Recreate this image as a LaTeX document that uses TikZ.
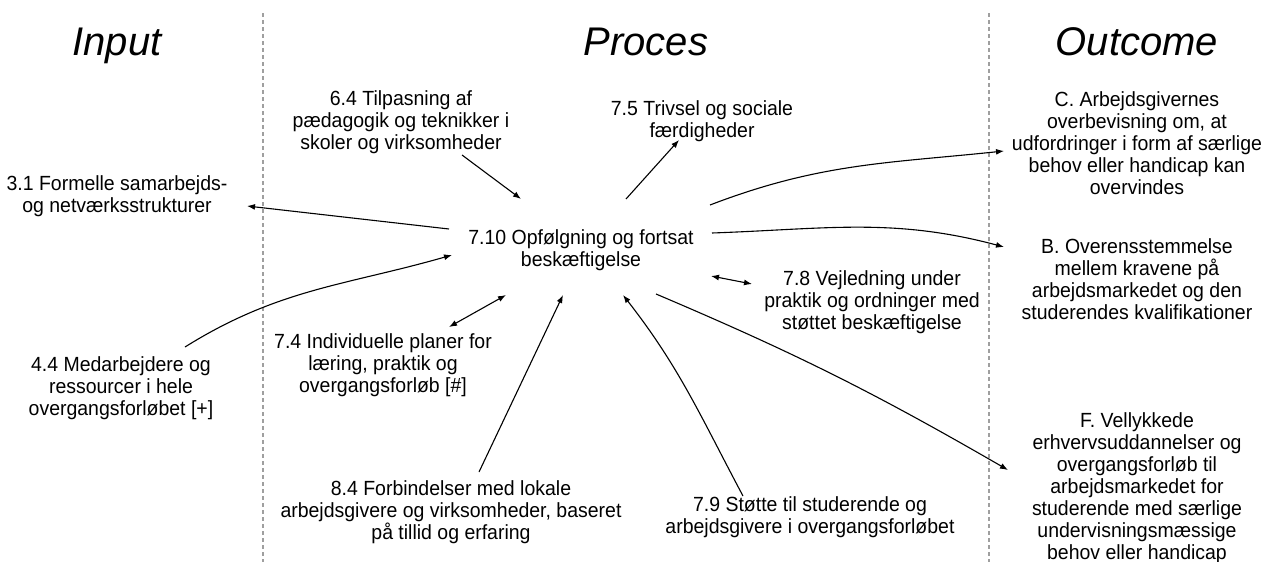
\documentclass[tikz,border=0pt]{standalone}
\usepackage{fontspec}
\setmainfont{Liberation Sans}
\newfontfamily\lblfont[FakeStretch=0.95]{Liberation Sans}
\usetikzlibrary{arrows.meta}

\begin{document}
\begin{tikzpicture}[x=1pt,y=1pt,
  % multi-line labels are placed by the baseline of their last line
  lbl/.style={align=center, font=\lblfont\fontsize{20.5}{22}\selectfont, inner sep=0pt, anchor=base},
  head/.style={font=\fontsize{40}{48}\selectfont\itshape, inner sep=0pt, anchor=base},
  sep/.style={draw=gray!75, line width=1.2pt, dash pattern=on 4pt off 3pt},
  link/.style={line width=1.1pt, -{Latex[length=8pt,width=6pt]}},
  both/.style={line width=1.1pt, {Latex[length=8pt,width=6pt]}-{Latex[length=8pt,width=6pt]}}]
\useasboundingbox (0,0) rectangle (1270,-562);

% column separators
\draw[sep] (263,-13) -- (263,-562);
\draw[sep] (989,-13) -- (989,-562);

% column headings
\node[head] (hin)  at (117,-55) {Input};
\node[head] (hpro) at (646,-55) {Proces};
\node[head] (hout) at (1137,-55) {Outcome};

% labels
\node[lbl] (n64)  at (401,-149) {6.4 Tilpasning af\\pædagogik og teknikker i\\skoler og virksomheder};
\node[lbl] (n75)  at (702,-137) {7.5 Trivsel og sociale\\færdigheder};
\node[lbl] (n31)  at (117,-212) {3.1 Formelle samarbejds-\\og netværksstrukturer};
\node[lbl] (n710) at (581,-266) {7.10 Opfølgning og fortsat\\beskæftigelse};
\node[lbl] (nC)   at (1137,-194) {C. Arbejdsgivernes\\overbevisning om, at\\udfordringer i form af særlige\\behov eller handicap kan\\overvindes};
\node[lbl] (nB)   at (1137,-319) {B. Overensstemmelse\\mellem kravene på\\arbejdsmarkedet og den\\studerendes kvalifikationer};
\node[lbl] (n78)  at (872,-329) {7.8 Vejledning under\\praktik og ordninger med\\støttet beskæftigelse};
\node[lbl] (n74)  at (383,-392) {7.4 Individuelle planer for\\læring, praktik og\\overgangsforløb [\#]};
\node[lbl] (n44)  at (121,-415) {4.4 Medarbejdere og\\ressourcer i hele\\overgangsforløbet [+]};
\node[lbl] (n84)  at (451,-539) {8.4 Forbindelser med lokale\\arbejdsgivere og virksomheder, baseret\\på tillid og erfaring};
\node[lbl] (n79)  at (810,-533) {7.9 Støtte til studerende og\\arbejdsgivere i overgangsforløbet};
\node[lbl] (nF)   at (1137,-559) {F. Vellykkede\\erhvervsuddannelser og\\overgangsforløb til\\arbejdsmarkedet for\\studerende med særlige\\undervisningsmæssige\\behov eller handicap};

% connector ends
\coordinate (e64)  at (462,-155);  \coordinate (c64)  at (521,-199);
\coordinate (c75)  at (626,-199);  \coordinate (e75)  at (679,-140);
\coordinate (c31)  at (449,-229);  \coordinate (e31)  at (247,-206);
\coordinate (cC)   at (710,-205);  \coordinate (eC)   at (1004,-151);
\coordinate (cB)   at (712,-233);  \coordinate (eB)   at (1004,-247);
\coordinate (c78)  at (711,-276);  \coordinate (e78)  at (752,-284);
\coordinate (c74)  at (506,-295);  \coordinate (e74)  at (449,-327);
\coordinate (e44)  at (185,-347);  \coordinate (c44)  at (452,-255);
\coordinate (e84)  at (479,-472);  \coordinate (c84)  at (563,-295);
\coordinate (e79)  at (743,-496);  \coordinate (c79)  at (623,-295);
\coordinate (cF)   at (656,-294);  \coordinate (eF)   at (1008,-470);

% connectors
\draw[link] (e64) -- (c64);
\draw[link] (c75) -- (e75);
\draw[link] (c31) -- (e31);
\draw[link] (cC) to[out=21,in=186] (eC);
\draw[link] (cB) to[out=2,in=165] (eB);
\draw[both] (c78) -- (e78);
\draw[both] (c74) -- (e74);
\draw[link] (e44) to[out=32,in=196] (c44);
\draw[link] (e84) -- (c84);
\draw[link] (e79) to[out=118,in=-52] (c79);
\draw[link] (cF) to[out=-23,in=150] (eF);
\end{tikzpicture}
\end{document}
